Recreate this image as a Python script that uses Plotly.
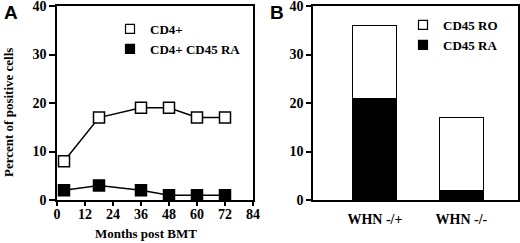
import plotly.graph_objects as go

# Panel A data
months = [3, 18, 36, 48, 60, 72]
cd4 = [8, 17, 19, 19, 17, 17]
cd4_cd45ra = [2, 3, 2, 1, 1, 1]
month_ticks = [0, 12, 24, 36, 48, 60, 72, 84]

# Panel B data
groups = ["WHN -/+", "WHN -/-"]
cd45_ra = [21, 2]
cd45_ro = [15, 15]
pct_ticks = [0, 10, 20, 30, 40]

W, H = 520, 243
def px(x):
    return x / W
def py(y):
    return (H - y) / H

SERIF = "Liberation Serif"
SANS = "Liberation Sans"
tfont = dict(family=SERIF, size=14, color="black", weight="bold")
lfont = dict(family=SERIF, size=13, color="black", weight="bold")

fig = go.Figure()

# Panel A lines
fig.add_trace(go.Scatter(x=months, y=cd4, mode="lines+markers", xaxis="x", yaxis="y",
                         line=dict(color="black", width=1.5),
                         marker=dict(symbol="square", size=11, color="white",
                                     line=dict(color="black", width=1.5)),
                         cliponaxis=False, showlegend=False))
fig.add_trace(go.Scatter(x=months, y=cd4_cd45ra, mode="lines+markers", xaxis="x", yaxis="y",
                         line=dict(color="black", width=1.5),
                         marker=dict(symbol="square", size=11, color="black",
                                     line=dict(color="black", width=1.5)),
                         cliponaxis=False, showlegend=False))
# legend entries (marker only)
fig.add_trace(go.Scatter(x=[None], y=[None], mode="markers", name="CD4+", xaxis="x", yaxis="y",
                         marker=dict(symbol="square", size=9, color="white",
                                     line=dict(color="black", width=1.2)),
                         legend="legend"))
fig.add_trace(go.Scatter(x=[None], y=[None], mode="markers", name="CD4+ CD45 RA", xaxis="x", yaxis="y",
                         marker=dict(symbol="square", size=9, color="black",
                                     line=dict(color="black", width=1.2)),
                         legend="legend"))

# Panel B bars
fig.add_trace(go.Bar(x=groups, y=cd45_ra, xaxis="x2", yaxis="y2", width=0.51,
                     marker=dict(color="black", line=dict(color="black", width=1)),
                     showlegend=False))
fig.add_trace(go.Bar(x=groups, y=cd45_ro, xaxis="x2", yaxis="y2", width=0.51,
                     marker=dict(color="white", line=dict(color="black", width=1)),
                     showlegend=False))
fig.add_trace(go.Scatter(x=[None], y=[None], mode="markers", name="CD45 RO", xaxis="x2", yaxis="y2",
                         marker=dict(symbol="square", size=9, color="white",
                                     line=dict(color="black", width=1.2)),
                         legend="legend2"))
fig.add_trace(go.Scatter(x=[None], y=[None], mode="markers", name="CD45 RA", xaxis="x2", yaxis="y2",
                         marker=dict(symbol="square", size=9, color="black",
                                     line=dict(color="black", width=1.2)),
                         legend="legend2"))

axis_common = dict(showgrid=False, zeroline=False, showline=True, linecolor="black",
                   linewidth=1.5, mirror=True, ticks="outside", tickwidth=1.5,
                   tickcolor="black", tickfont=tfont, ticklabeloverflow="allow",
                   automargin=False)

fig.update_layout(
    width=W, height=H, margin=dict(l=0, r=0, t=0, b=0, pad=0),
    paper_bgcolor="white", plot_bgcolor="white", barmode="stack",
    xaxis=dict(domain=[px(57), px(253)], range=[0, 84], tickvals=month_ticks,
               anchor="y", ticklen=4, ticklabelstandoff=-4, **axis_common),
    yaxis=dict(domain=[py(200), py(6)], range=[0, 40], tickvals=pct_ticks,
               anchor="x", ticklen=6, **axis_common),
    xaxis2=dict(domain=[px(313), px(518)], range=[-0.716, 1.654], anchor="y2",
                showgrid=False, zeroline=False, showline=True, linecolor="black",
                linewidth=1.5, mirror=True, ticks="", tickfont=tfont, ticklabelstandoff=5,
                automargin=False),
    yaxis2=dict(domain=[py(200), py(6)], range=[0, 40], tickvals=pct_ticks,
                anchor="x2", ticklen=5, **axis_common),
    legend=dict(x=px(110), y=py(14), xanchor="left", yanchor="top", font=lfont,
                bgcolor="rgba(0,0,0,0)", traceorder="normal", tracegroupgap=0,
                borderwidth=0),
    legend2=dict(x=px(403), y=py(10), xanchor="left", yanchor="top", font=lfont,
                 bgcolor="rgba(0,0,0,0)", traceorder="normal", tracegroupgap=0,
                 borderwidth=0),
    annotations=[
        dict(text="A", x=px(11), y=py(12), xref="paper", yref="paper", showarrow=False,
             xanchor="center", yanchor="middle",
             font=dict(family=SANS, size=19, color="black", weight="bold")),
        dict(text="B", x=px(277), y=py(12), xref="paper", yref="paper", showarrow=False,
             xanchor="center", yanchor="middle",
             font=dict(family=SANS, size=19, color="black", weight="bold")),
        dict(text="Months post BMT", x=px(146), y=py(233), xref="paper", yref="paper",
             xanchor="center", yanchor="middle", showarrow=False, font=lfont),
        dict(text="Percent of positive cells", x=px(8), y=py(113), xref="paper", yref="paper",
             xanchor="center", yanchor="middle", showarrow=False, textangle=-90, font=lfont),
    ],
)

fig.write_html("out.html", config={"displayModeBar": False},
               post_script="document.body.style.margin='0';document.body.style.padding='0';")
